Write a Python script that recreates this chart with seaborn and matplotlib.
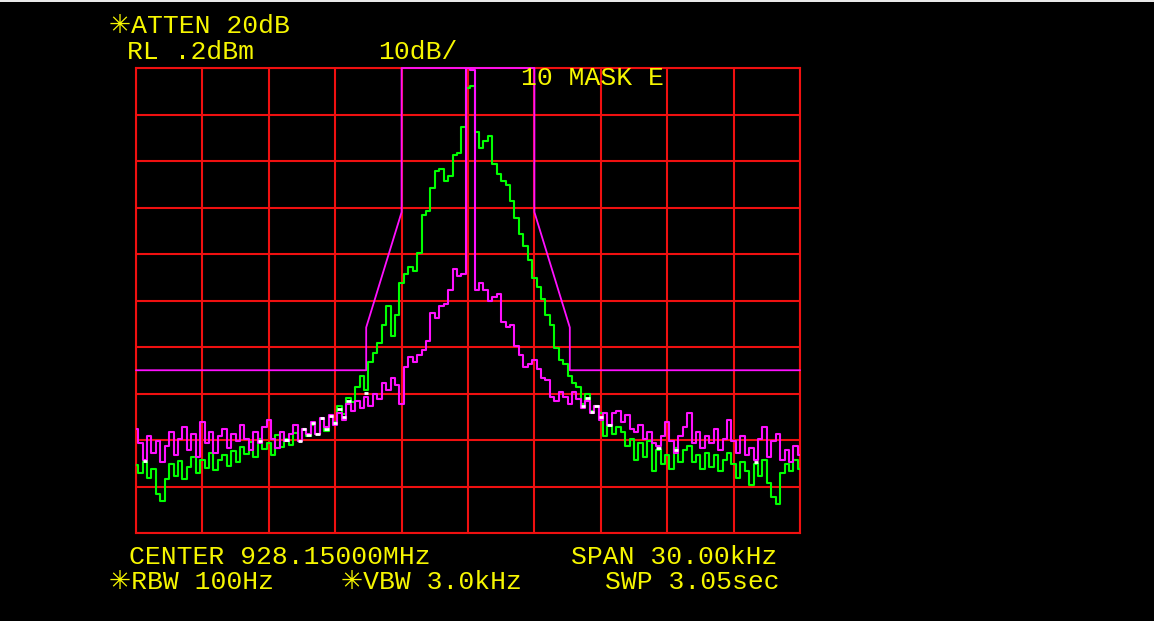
import numpy as np
import pandas as pd
import matplotlib
matplotlib.use("Agg")
import matplotlib.pyplot as plt
from matplotlib.patches import Rectangle
import seaborn as sns

# Sweep points: offset from centre frequency in kHz (30 kHz span, 151 points)
freq_khz = np.linspace(-15, 15, 151)

# Trace A (max hold, green), dBm
trace_a = [
    -85.2, -86.8, -84.6, -87.9, -86.0,
    -91.5, -93.0, -88.2, -85.0, -87.6,
    -84.3, -88.1, -85.6, -83.4, -86.9,
    -84.0, -85.8, -82.6, -86.2, -84.1,
    -83.0, -85.4, -82.2, -84.6, -81.4,
    -82.8, -80.2, -83.5, -79.6, -81.8,
    -80.4, -83.0, -78.8, -81.2, -79.5,
    -80.8, -78.2, -80.1, -77.4, -79.0,
    -76.5, -78.6, -75.2, -77.8, -74.6,
    -76.0, -72.4, -74.3, -70.8, -71.6,
    -68.5, -66.0, -69.0, -63.0, -61.0,
    -59.0, -55.0, -51.0, -57.5, -53.0,
    -46.0, -44.0, -42.5, -43.5, -39.5,
    -31.5, -30.5, -25.5, -22.0, -21.5,
    -24.0, -23.0, -18.5, -18.0, -12.5,
    -4.0, -3.6, -13.5, -17.0, -15.5,
    -14.5, -20.5, -22.5, -24.0, -25.0,
    -28.5, -32.0, -35.5, -38.0, -41.0,
    -45.0, -47.0, -49.5, -53.0, -55.0,
    -60.0, -62.5, -63.5, -66.0, -67.5,
    -68.5, -72.0, -70.0, -73.5, -72.5,
    -74.0, -79.0, -76.5, -78.5, -77.0,
    -78.0, -81.0, -79.5, -84.0, -80.5,
    -83.5, -80.0, -86.5, -82.0, -85.0,
    -83.0, -86.0, -81.5, -84.5, -82.0,
    -81.0, -84.5, -83.0, -86.0, -82.5,
    -85.5, -83.0, -86.5, -84.0, -82.5,
    -85.0, -88.0, -84.5, -86.5, -89.5,
    -85.0, -87.5, -84.0, -89.0, -92.0,
    -93.5, -87.0, -85.0, -86.5, -84.0,
    -86.0,
]

# Trace B (clear write, magenta), dBm
trace_b = [
    -77.5, -80.5, -84.0, -79.0, -82.5,
    -80.0, -84.5, -81.0, -78.0, -83.0,
    -79.5, -77.0, -82.0, -78.5, -83.5,
    -76.0, -80.5, -78.0, -82.5, -79.0,
    -77.5, -81.5, -78.5, -80.0, -76.5,
    -79.5, -82.0, -78.0, -80.5, -77.0,
    -75.5, -79.5, -81.5, -78.0, -80.0,
    -78.5, -76.5, -80.0, -77.5, -78.5,
    -76.0, -78.5, -75.0, -77.0, -74.5,
    -76.5, -74.0, -75.5, -72.0, -73.5,
    -71.5, -73.0, -70.5, -72.5, -70.0,
    -71.0, -67.5, -69.0, -66.5, -68.0,
    -72.0, -64.0, -62.0, -63.0, -61.5,
    -60.5, -58.5, -52.5, -53.5, -51.0,
    -50.5, -47.5, -43.0, -44.5, -44.0,
    0.2, -0.3, -47.5, -46.0, -47.5,
    -50.0, -49.0, -48.5, -54.5, -55.5,
    -55.0, -59.5, -61.5, -64.0, -63.5,
    -62.5, -64.5, -66.5, -67.0, -70.5,
    -71.5, -69.5, -70.5, -72.0, -69.5,
    -71.0, -73.0, -71.5, -74.0, -72.5,
    -75.5, -74.0, -76.5, -74.0, -73.5,
    -76.0, -74.5, -77.5, -78.0, -76.5,
    -79.5, -78.0, -80.5, -81.0, -79.0,
    -76.0, -80.0, -82.5, -79.0, -77.0,
    -74.0, -80.5, -78.0, -81.5, -79.0,
    -80.5, -77.5, -82.0, -79.5, -75.5,
    -80.0, -82.5, -79.0, -83.0, -81.5,
    -84.0, -79.5, -77.0, -83.5, -80.0,
    -78.5, -84.0, -82.0, -84.5, -81.0,
    -83.0,
]

# Emission mask E limit line
mask_khz = [-15.0, -4.6, -4.6, -3.0, -3.0, 3.0, 3.0, 4.6, 4.6, 15.0]
mask_dbm = [-64.8, -64.8, -55.6, -30.8, 0.2, 0.2, -30.8, -55.6, -64.8, -64.8]

# Screen annotations
ref_level = 0.2
db_per_div = 10
header_lines = ["\u2733ATTEN 20dB", "RL .2dBm", "10dB/"]
mask_label = "10 MASK E"
footer_lines = ["CENTER 928.15000MHz", "SPAN 30.00kHz",
                "\u2733RBW 100Hz", "\u2733VBW 3.0kHz", "SWP 3.05sec"]

sns.set_style("dark")
plt.rcParams["font.family"] = ["Liberation Mono", "DejaVu Sans"]

W, H = 1154, 621
fig = plt.figure(figsize=(W / 100, H / 100), dpi=100, facecolor="black")
ax = fig.add_axes([136 / W, 1 - 533 / H, 664 / W, 465 / H])
ax.set_facecolor("black")

GRID = "#f01010"
GREEN = "#00ff00"
MAGENTA = "#ff10ff"
YELLOW = "#f6f600"

df = pd.DataFrame({"freq": freq_khz, "a": trace_a, "b": trace_b})
mask_df = pd.DataFrame({"freq": mask_khz, "dbm": mask_dbm})

# Graticule: 10 x 10 divisions
ax.set_xlim(-15, 15)
ax.set_ylim(ref_level - 10 * db_per_div, ref_level)
ax.set_xticks(np.linspace(-15, 15, 11))
ax.set_yticks(np.linspace(ref_level - 10 * db_per_div, ref_level, 11))
ax.tick_params(length=0, labelbottom=False, labelleft=False)
ax.grid(True, color=GRID, linewidth=1.5)
for sp in ax.spines.values():
    sp.set_color(GRID)
    sp.set_linewidth(1.5)
ax.set_axisbelow(True)

# Limit line
sns.lineplot(data=mask_df, x="freq", y="dbm", sort=False, estimator=None,
             color=MAGENTA, linewidth=1.3, ax=ax, zorder=3, clip_on=False)

# Traces, drawn point-to-point in display steps
sns.lineplot(data=df, x="freq", y="a", color=GREEN, linewidth=1.5,
             drawstyle="steps-mid", ax=ax, zorder=4)
sns.lineplot(data=df, x="freq", y="b", color=MAGENTA, linewidth=1.5,
             drawstyle="steps-mid", ax=ax, zorder=5)

# Where both traces coincide the display shows white
a = np.asarray(trace_a)
b = np.asarray(trace_b)
both = np.abs(a - b) <= 1.6
step = freq_khz[1] - freq_khz[0]
ax.hlines(((a + b) / 2)[both], freq_khz[both] - step / 2, freq_khz[both] + step / 2,
          colors="white", linewidth=2.0, zorder=6)

ax.set_xlabel("")
ax.set_ylabel("")

# Annotation text
fs = 19
def put(text, x, y):
    fig.text(x / W, 1 - y / H, text, color=YELLOW, fontsize=fs,
             ha="left", va="center")

put(header_lines[0], 109, 26)
put(header_lines[1], 127, 52)
put(header_lines[2], 378, 52)
put(mask_label, 521, 78)
put(footer_lines[0], 129, 557)
put(footer_lines[1], 571, 557)
put(footer_lines[2], 109, 582)
put(footer_lines[3], 341, 582)
put(footer_lines[4], 605, 582)

# Thin light border along the top edge of the screen capture
fig.patches.append(Rectangle((0, 1 - 2 / H), 1, 2 / H, transform=fig.transFigure,
                             facecolor="#e8e8e8", edgecolor="none"))

fig.savefig("out.png", dpi=100, facecolor="black")
